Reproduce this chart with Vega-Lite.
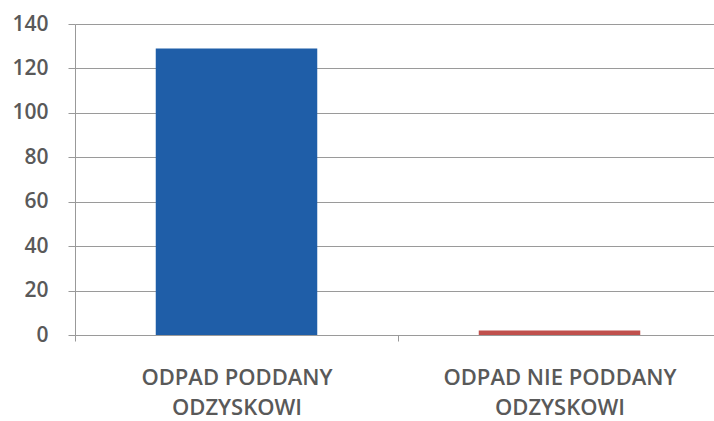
{
  "$schema": "https://vega.github.io/schema/vega-lite/v6.json",
  "autosize": "none",
  "width": 646,
  "height": 311,
  "padding": {"left": 75, "top": 24, "right": 0, "bottom": 86},
  "background": "white",
  "data": {"values": [
    {"kategoria": "ODPAD PODDANY|ODZYSKOWI", "wartosc": 129},
    {"kategoria": "ODPAD NIE PODDANY|ODZYSKOWI", "wartosc": 2}
  ]},
  "mark": {"type": "bar"},
  "encoding": {
    "x": {
      "field": "kategoria", "type": "nominal", "sort": null,
      "scale": {"paddingInner": 0, "paddingOuter": 0},
      "axis": {
        "title": null, "labelAngle": 0,
        "labelExpr": "split(datum.label, '|')",
        "labelFont": "Open Sans", "labelFontSize": 22, "labelFontWeight": 600, "labelColor": "#595959",
        "labelLineHeight": 30, "labelPadding": 26, "labelLimit": 0,
        "domain": false, "ticks": true, "tickBand": "extent", "tickColor": "#999999", "tickSize": 6,
        "grid": false
      }
    },
    "y": {
      "field": "wartosc", "type": "quantitative",
      "scale": {"domain": [0, 140]},
      "axis": {
        "title": null, "values": [0, 20, 40, 60, 80, 100, 120, 140],
        "labelFont": "Open Sans", "labelFontSize": 21, "labelFontWeight": 600, "labelColor": "#595959",
        "labelPadding": 20, "tickSize": 7, "tickColor": "#999999",
        "domainColor": "#999999", "gridColor": "#9a9a9a", "gridWidth": 1.2
      }
    },
    "color": {
      "field": "kategoria", "type": "nominal", "sort": null,
      "scale": {"range": ["#1f5ea8", "#c0504d"]},
      "legend": null
    }
  },
  "config": {
    "view": {"stroke": null},
    "bar": {"discreteBandSize": {"band": 0.5}}
  }
}
